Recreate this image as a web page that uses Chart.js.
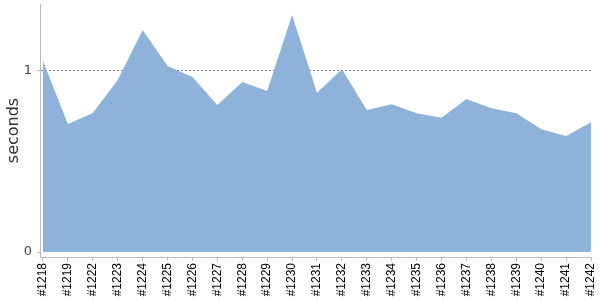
<!DOCTYPE html>
<html>
<head>
<meta charset="utf-8">
<script src="https://cdn.jsdelivr.net/npm/chart.js@4/dist/chart.umd.min.js"></script>
<style>
  html,body{margin:0;padding:0;background:#fff;}
  #wrap{width:600px;height:300px;}
</style>
</head>
<body>
<div id="wrap"><canvas id="chart"></canvas></div>
<script>
// build numbers (x axis)
const builds = ['#1218','#1219','#1222','#1223','#1224','#1225','#1226','#1227','#1228','#1229','#1230',
  '#1231','#1232','#1233','#1234','#1235','#1236','#1237','#1238','#1239','#1240','#1241','#1242'];
// duration per build, seconds
const seconds = [1.055,0.707,0.768,0.950,1.227,1.028,0.967,0.812,0.939,0.890,1.309,
  0.880,1.009,0.785,0.816,0.766,0.742,0.845,0.794,0.766,0.678,0.641,0.717];
const yTicks = [0,1];

const points = seconds.map((v,i)=>({x:i,y:v}));

new Chart(document.getElementById('chart'),{
  type:'line',
  data:{datasets:[{
    data:points,
    fill:'origin',
    backgroundColor:'#8fb2da',
    borderWidth:0,
    pointRadius:0,
    tension:0
  }]},
  options:{
    responsive:true,
    maintainAspectRatio:false,
    animation:false,
    events:[],
    layout:{padding:{top:4,right:9,left:0,bottom:0}},
    plugins:{legend:{display:false},tooltip:{enabled:false}},
    scales:{
      x:{
        type:'linear',
        min:-0.12,
        max:builds.length-1,
        afterBuildTicks:s=>{ s.ticks = builds.map((b,i)=>({value:i})); },
        afterFit:s=>{ s.height = 43; s.paddingLeft = 0; s.paddingRight = 0; },
        border:{color:'#bbb',width:1},
        grid:{drawOnChartArea:false,color:'#bbb',tickLength:4},
        ticks:{
          autoSkip:false,
          maxRotation:90,minRotation:90,
          padding:2,
          color:'#000',
          font:{family:'Liberation Sans',size:12},
          callback:v=>builds[v]
        }
      },
      y:{
        min:-0.0276,
        max:1.37,
        afterBuildTicks:s=>{ s.ticks = yTicks.map(v=>({value:v})); },
        afterFit:s=>{ s.width = 40; s.paddingTop = 0; s.paddingBottom = 0; },
        border:{color:'#bbb',width:1,dash:[2,2]},
        grid:{
          color:c=>c.tick && c.tick.value===1 ? '#888' : 'rgba(0,0,0,0)',
          tickColor:'#bbb',
          tickLength:3
        },
        ticks:{
          padding:5,
          color:'#444',
          font:{family:'DejaVu Sans',size:13}
        },
        title:{
          display:true,
          text:'seconds',
          color:'#333',
          font:{family:'DejaVu Sans',size:16},
          padding:{top:4,bottom:0}
        }
      }
    }
  }
});
</script>
</body>
</html>
